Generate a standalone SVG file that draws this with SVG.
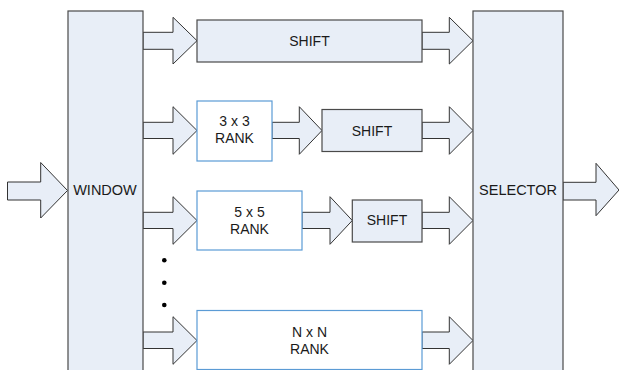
<svg xmlns="http://www.w3.org/2000/svg" width="619" height="370" viewBox="0 0 619 370">
<style>
.blk{fill:#E8EEF7;stroke:#4A4A4A;stroke-width:1.2}
.rank{fill:#FFFFFF;stroke:#5B9BD5;stroke-width:1.2}
.arr{fill:#E8EEF7;stroke:#333333;stroke-width:1}
text{font-family:"Liberation Sans",Arial,sans-serif;font-size:14px;fill:#1A1A1A;text-anchor:middle}
.big{font-size:14.5px}
</style>
<rect width="619" height="370" fill="#FFFFFF"/>
<g id="connectors">
<polygon class="arr" points="7.5,182 40.7,182 40.7,162.5 67.5,190.5 40.7,218 40.7,200 7.5,200"/>
<polygon class="arr" points="143,32.3 173,32.3 173,17.3 197,40.7 173,64 173,49.3 143,49.3"/>
<polygon class="arr" points="422,32.3 449.3,32.3 449.3,17.3 473,40.7 449.3,64 449.3,49.3 422,49.3"/>
<polygon class="arr" points="143,122.3 173,122.3 173,106.7 197,130.5 173,154.3 173,138.5 143,138.5"/>
<polygon class="arr" points="272,122.3 299.3,122.3 299.3,106.7 322,130.5 299.3,154.3 299.3,138.5 272,138.5"/>
<polygon class="arr" points="422,122.3 449.3,122.3 449.3,106.7 473,130.5 449.3,154.3 449.3,138.5 422,138.5"/>
<polygon class="arr" points="143,212.3 173,212.3 173,196.7 197,220.5 173,244.3 173,228.5 143,228.5"/>
<polygon class="arr" points="302,212.3 330,212.3 330,196.7 352.3,220.5 330,244.3 330,228.5 302,228.5"/>
<polygon class="arr" points="422,212.3 449.3,212.3 449.3,196.7 473,220.5 449.3,244.3 449.3,228.5 422,228.5"/>
<polygon class="arr" points="143,332 173,332 173,316.7 197,340.5 173,364.3 173,348.5 143,348.5"/>
<polygon class="arr" points="422,332 449.3,332 449.3,316.7 473,340.5 449.3,364.3 449.3,348.5 422,348.5"/>
<polygon class="arr" points="563,182.3 596,182.3 596,163.3 619,190 596,215.7 596,200 563,200"/>
</g>
<g id="window">
<rect class="blk" x="68" y="11" width="75" height="370"/>
<text class="big" x="105" y="195">WINDOW</text>
</g>
<g id="selector">
<rect class="blk" x="473" y="11" width="90" height="370"/>
<text class="big" x="518" y="195">SELECTOR</text>
</g>
<g id="shift1">
<rect class="blk" x="197" y="20" width="225" height="42"/>
<text x="309.5" y="45.5">SHIFT</text>
</g>
<g id="rank3">
<rect class="rank" x="197" y="101" width="75" height="60"/>
<text x="234.5" y="126">3 x 3</text>
<text x="234.5" y="143.3">RANK</text>
</g>
<g id="shift2">
<rect class="blk" x="322" y="109.5" width="100" height="42"/>
<text x="372" y="135.5">SHIFT</text>
</g>
<g id="rank5">
<rect class="rank" x="197" y="191" width="105" height="59"/>
<text x="249.5" y="216.5">5 x 5</text>
<text x="249.5" y="234">RANK</text>
</g>
<g id="shift3">
<rect class="blk" x="352.3" y="200" width="69.7" height="42"/>
<text x="387" y="225">SHIFT</text>
</g>
<g id="dots">
<circle cx="164.3" cy="260.3" r="2.3" fill="#000"/>
<circle cx="164.3" cy="282.7" r="2.3" fill="#000"/>
<circle cx="164.3" cy="305" r="2.3" fill="#000"/>
</g>
<g id="rankN">
<rect class="rank" x="197" y="310.5" width="225" height="59"/>
<text x="309.5" y="336.7">N x N</text>
<text x="309.5" y="354">RANK</text>
</g>
</svg>
